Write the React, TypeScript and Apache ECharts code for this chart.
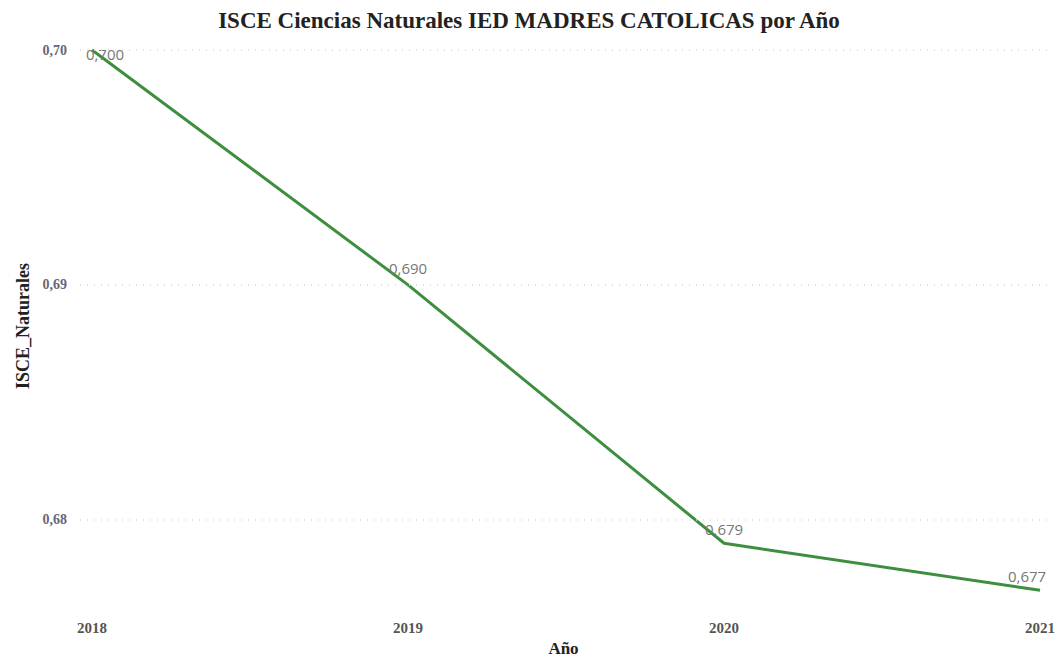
import React, { useEffect, useRef } from "react";
import * as echarts from "echarts";

const years = [2018, 2019, 2020, 2021];
const isceValues = [0.7, 0.69, 0.679, 0.677];
const yTicks = [0.68, 0.69, 0.7];
const labelOffsets = [[13, 17], [0, -4], [0, -2], [-13, -2]];

const fmt = (v: number, d: number) => v.toFixed(d).replace(".", ",");

export default function App() {
  const ref = useRef<HTMLDivElement>(null);
  useEffect(() => {
    document.body.style.margin = "0";
    const chart = echarts.init(ref.current!, null, { renderer: "svg" });
    const serif = "'Liberation Serif', 'DejaVu Serif', serif";
    chart.setOption({
      animation: false,
      backgroundColor: "#ffffff",
      title: {
        text: "ISCE Ciencias Naturales IED MADRES CATOLICAS por Año",
        left: "center",
        top: 4,
        textStyle: { fontFamily: serif, fontWeight: "bold", fontSize: 23, color: "#222" },
      },
      grid: { left: 80, right: 11, top: 50, bottom: 56, outerBoundsMode: "none" },
      xAxis: {
        type: "value",
        min: 2017.962,
        max: 2021.022,
        name: "Año",
        nameLocation: "middle",
        nameGap: 36,
        nameTextStyle: { fontFamily: serif, fontWeight: "bold", fontSize: 17, color: "#222" },
        axisLine: { show: false },
        axisTick: { show: false },
        splitLine: { show: false },
        axisLabel: {
          customValues: years,
          formatter: (v: number) => String(Math.round(v)),
          margin: 18,
          fontFamily: serif,
          fontWeight: "bold",
          fontSize: 15,
          color: "#555",
        },
      },
      yAxis: {
        type: "value",
        min: 0.6765,
        max: 0.7,
        name: "ISCE_Naturales",
        nameLocation: "middle",
        nameGap: 42,
        nameTextStyle: { fontFamily: serif, fontWeight: "bold", fontSize: 18, color: "#222" },
        axisLine: { show: false },
        axisTick: { show: false, customValues: yTicks },
        splitLine: { show: false },
        axisLabel: {
          customValues: yTicks,
          formatter: (v: number) => fmt(v, 2),
          margin: 13,
          fontFamily: serif,
          fontWeight: "bold",
          fontSize: 14,
          color: "#667",
        },
      },
      series: [
        {
          type: "line",
          data: years.map((y, i) => ({
            value: [y, isceValues[i]],
            label: { offset: labelOffsets[i] },
          })),
          clip: false,
          symbol: "circle",
          symbolSize: 0.1,
          showSymbol: true,
          lineStyle: { color: "#3d8f3f", width: 3 },
          itemStyle: { color: "#3d8f3f" },
          label: {
            show: true,
            position: "top",
            formatter: (p: any) => fmt(p.value[1], 3),
            fontFamily: "'Open Sans', 'Noto Sans', sans-serif",
            fontSize: 15,
            color: "#777",
          },
          markLine: {
            silent: true,
            symbol: "none",
            label: { show: false },
            lineStyle: { color: "#d8d8d8", type: [1, 6], width: 1.5 },
            data: yTicks.map((t) => ({ yAxis: t })),
          },
        },
      ],
    });
    return () => chart.dispose();
  }, []);
  return <div ref={ref} style={{ width: 1058, height: 658 }} />;
}
